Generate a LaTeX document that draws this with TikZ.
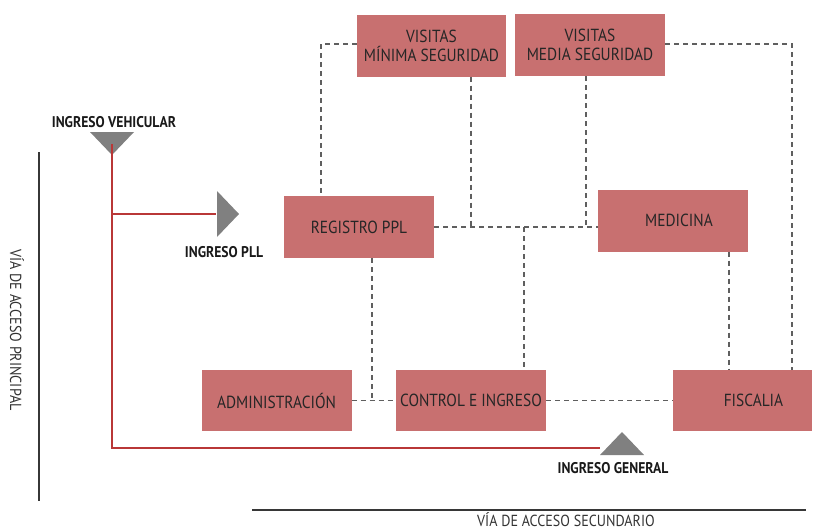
\documentclass[tikz,border=0pt]{standalone}
\usepackage{fontspec}
\setmainfont{PT Sans}
\newfontfamily\roomfont[FakeStretch=0.88]{PT Sans}
\usetikzlibrary{positioning}
\definecolor{roomred}{RGB}{200,112,112}
\definecolor{accessred}{RGB}{185,55,55}
\definecolor{markgray}{RGB}{128,128,128}
\definecolor{linkgray}{RGB}{95,95,95}
\definecolor{roadgray}{RGB}{55,55,55}
\begin{document}
\begin{tikzpicture}[
      x=1pt, y=-1pt,
      room_style/.style={fill=roomred, minimum width=150pt, minimum height=62pt, inner sep=2pt,
                         align=center, font=\roomfont\fontsize{17.5}{19}\selectfont, text=black!85},
      link_style/.style={draw=linkgray, line width=1.2pt, dash pattern=on 5pt off 4pt},
      access_style/.style={draw=accessred, line width=1.6pt},
      road_style/.style={draw=roadgray, line width=2pt},
      mark_style/.style={fill=markgray},
      label_style/.style={font=\roomfont\bfseries\fontsize{15.5}{17}\selectfont, text=black!90, inner sep=1pt},
      road_label_style/.style={font=\roomfont\fontsize{16}{18}\selectfont, text=black!80, inner sep=0pt}
  ]
      \useasboundingbox (0,0) rectangle (814,531);

      % rooms
      \node[room_style, minimum width=149pt] (vmin) at (431.5,45.5) {VISITAS\\MÍNIMA SEGURIDAD};
      \node[room_style] (vmed) at (590,45) {VISITAS\\MEDIA SEGURIDAD};
      \node[room_style] (reg) at (359,227) {REGISTRO PPL};
      \node[room_style] (med) at (673,220.5) {\hspace*{12pt}MEDICINA};
      \node[room_style, minimum height=61pt] (adm) at (276.5,400.5) {ADMINISTRACIÓN};
      \node[room_style, minimum height=61pt] (ctrl) at (471,400.5) {CONTROL E INGRESO};
      \node[room_style, minimum width=139pt, minimum height=61pt] (fisc) at (742.5,400.5) {\hspace*{22pt}FISCALIA};

      % junctions of the dashed links
      \coordinate (jvmin) at (471,227);
      \coordinate (jvmed) at (586,227);
      \coordinate (jctrl) at (524,227);
      \coordinate (jreg) at (372,400.5);
      \coordinate (jmed) at (729,400.5);
      \coordinate (jleft) at (321,44);
      \coordinate (jright) at (792,44);

      \draw[link_style] (vmin.west |- jleft) -- (jleft) -- (jleft |- reg.north);
      \draw[link_style] (vmed.east |- jright) -- (jright) -- (jright |- fisc.north);
      \draw[link_style] (reg.east |- jvmin) -- (med.west |- jvmin);
      \draw[link_style] (vmin.south -| jvmin) -- (jvmin);
      \draw[link_style] (vmed.south -| jvmed) -- (jvmed);
      \draw[link_style] (jctrl) -- (jctrl |- ctrl.north);
      \draw[link_style] (reg.south -| jreg) -- (jreg);
      \draw[link_style] (adm.east) -- (ctrl.west);
      \draw[link_style] (ctrl.east) -- (fisc.west);
      \draw[link_style] (med.south -| jmed) -- (jmed |- fisc.north);

      % accesses
      \coordinate (veh) at (112,155);
      \coordinate (pll) at (239,214);
      \coordinate (gen) at (622,432);
      \fill[mark_style] (veh) -- ++(-22,-23) -- ++(44,0) -- cycle;
      \fill[mark_style] (pll) -- ++(-22,-23) -- ++(0,46) -- cycle;
      \fill[mark_style] (gen) -- ++(-22,23) -- ++(44,0) -- cycle;
      \node[label_style] (vehlabel) at (114,122) {INGRESO VEHICULAR};
      \node[label_style] (plllabel) at (224,252) {INGRESO PLL};
      \node[label_style] (genlabel) at (613,468) {INGRESO GENERAL};

      \draw[access_style] ([yshift=11]veh) |- ([xshift=-22]gen |- 0,448);
      \draw[access_style] (veh |- pll) -- ([xshift=-23]pll);

      % roads
      \draw[road_style] (39,152) -- (39,501);
      \draw[road_style] (252,510) -- (806,510);
      \node[road_label_style, rotate=-90] (principal) at (17,330) {VÍA DE ACCESO PRINCIPAL};
      \node[road_label_style] (secundario) at (566,520) {VÍA DE ACCESO SECUNDARIO};
  \end{tikzpicture}
\end{document}
